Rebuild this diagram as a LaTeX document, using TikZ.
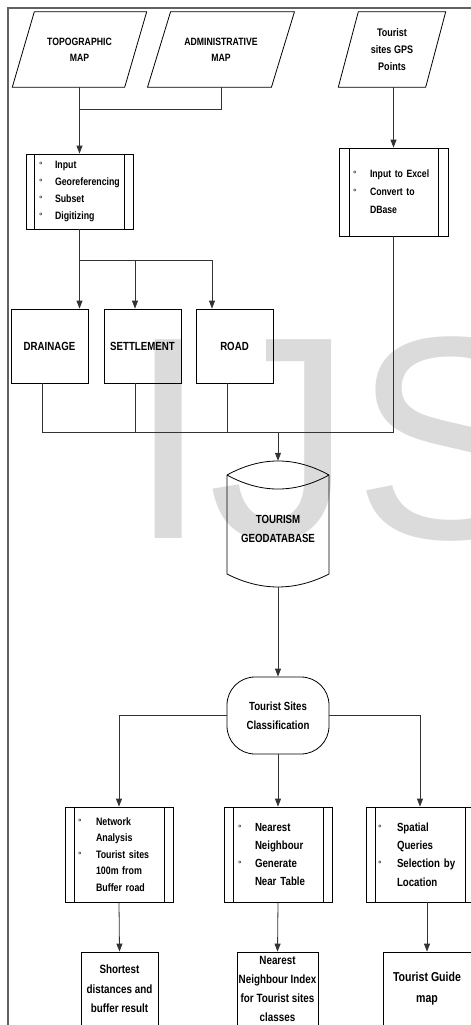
\documentclass[tikz,border=0pt]{standalone}
\usepackage{fontspec}
\setmainfont{Liberation Sans}[FakeStretch=0.82]
\newfontfamily\bulfont{Liberation Sans}
\newfontfamily\wmfont{Liberation Sans}
\usetikzlibrary{arrows.meta}
\newcommand\bu[1]{\makebox[#1][l]{\bulfont\mdseries\fontsize{9}{9}\selectfont °}}
\newcommand\cn[1]{\hspace*{#1}}
\tikzset{
  every node/.style={inner sep=0pt, align=center},
  boxs/.style={draw, line width=0.8pt},
  con/.style={line width=0.8pt, draw=black!80},
  arr/.style={con, -{Triangle[length=8pt,width=6pt]}},
  prep/.style={draw, line width=0.8pt, align=left,
    path picture={\draw[line width=0.8pt]
      ([xshift=#1]path picture bounding box.north west) -- ([xshift=#1]path picture bounding box.south west)
      ([xshift=-#1]path picture bounding box.north east) -- ([xshift=-#1]path picture bounding box.south east);}},
  ptxt/.style={font=\bfseries\fontsize{10.6}{16}\selectfont},
  big/.style={font=\bfseries\fontsize{11.8}{19}\selectfont},
}
\newcommand\paraoutline[2]{\draw[line width=0.8pt] ([xshift=-#2]#1.south west) -- ([xshift=-#2]#1.south east) -- ([xshift=#2]#1.north east) -- ([xshift=#2]#1.north west) -- cycle;}
\begin{document}
\begin{tikzpicture}[x=1pt,y=-1pt]
\useasboundingbox (0,0) rectangle (471,1025);
\clip (0,0) rectangle (471,1025);
% watermark
\node[anchor=base west, text=black!14] (wm) at (128,538) {\wmfont\fontsize{289}{289}\selectfont IJS};
% frame
\draw[line width=2.5pt, black!62] (480,8) -- (8,8) -- (8,1030);
% input maps
\node[ptxt, minimum width=112pt, minimum height=75pt] (topo) at (79.5,49.5) {TOPOGRAPHIC\\MAP};
\paraoutline{topo}{11pt}
\node[ptxt, minimum width=123.5pt, minimum height=75pt] (admin) at (221,49.5) {ADMINISTRATIVE\\MAP};
\paraoutline{admin}{11.5pt}
\node[font=\bfseries\fontsize{11}{17}\selectfont, minimum width=87pt, minimum height=75pt] (gps) at (392,49.5) {Tourist\\sites GPS\\Points};
\paraoutline{gps}{10pt}
% processes
\node[prep=8.5pt, text width=81pt, inner xsep=13pt, minimum height=75pt, font=\bfseries\fontsize{10.7}{17}\selectfont] (box1) at (79.5,191.5)
  {\bu{16pt}Input\\\bu{16pt}Georeferencing\\\bu{16pt}Subset\\\bu{16pt}Digitizing};
\node[prep=10pt, text width=81pt, inner xsep=14pt, minimum height=88pt, font=\bfseries\fontsize{10.6}{18}\selectfont] (box2) at (393.5,192)
  {\bu{17pt}Input to Excel\\\bu{17pt}Convert to\\\cn{17pt}DBase};
% layers
\node[boxs, big, minimum width=77pt, minimum height=74pt] (drain) at (49.5,346) {DRAINAGE};
\node[boxs, big, minimum width=77pt, minimum height=74pt] (sett) at (142.5,346) {SETTLEMENT};
\node[boxs, big, minimum width=77pt, minimum height=74pt] (road) at (234.5,346) {ROAD};
% geodatabase
\node[minimum width=102pt, minimum height=126pt] (db) at (278,524) {};
\node[big] (dbtext) at (278,528.5) {TOURISM\\GEODATABASE};
\draw[line width=0.8pt] (227,475) .. controls (261,456.3) and (295,456.3) .. (329,475);
\draw[line width=0.8pt] (227,475) .. controls (261,493.7) and (295,493.7) .. (329,475);
\draw[line width=0.8pt] (227,475) -- (227,574) .. controls (261,591.3) and (295,591.3) .. (329,574) -- (329,475);
% classification
\node[draw, line width=0.8pt, rounded corners=28pt, big, minimum width=102pt, minimum height=77pt] (cls) at (278,715.5) {Tourist Sites\\Classification};
% analyses
\node[prep=9pt, text width=82pt, inner xsep=13pt, minimum height=95pt, font=\bfseries\fontsize{10.8}{16.5}\selectfont] (boxA) at (119,854.5)
  {\bu{18pt}Network\\\cn{18pt}Analysis\\\bu{18pt}Tourist sites\\\cn{18pt}100m from\\\cn{18pt}Buffer road};
\node[prep=9pt, text width=80pt, inner xsep=14pt, minimum height=95pt, font=\bfseries\fontsize{11.8}{18.3}\selectfont] (boxB) at (278,854.5)
  {\bu{17pt}Nearest\\\cn{17pt}Neighbour\\\bu{17pt}Generate\\\cn{17pt}Near Table};
\node[prep=9pt, text width=84pt, inner xsep=12pt, minimum height=95pt, font=\bfseries\fontsize{11.8}{18.3}\selectfont] (boxC) at (420,854.5)
  {\bu{19pt}Spatial\\\cn{19pt}Queries\\\bu{19pt}Selection by\\\cn{19pt}Location};
% results
\node[boxs, font=\bfseries\fontsize{12}{19.5}\selectfont, minimum width=77pt, minimum height=74pt] (resA) at (119.5,989) {Shortest\\distances and\\buffer result};
\node[boxs, font=\bfseries\fontsize{12}{19}\selectfont, minimum width=81pt, minimum height=74pt] (resB) at (277.5,989) {Nearest\\Neighbour Index\\for Tourist sites\\classes};
\node[boxs, font=\bfseries\fontsize{12.9}{21}\selectfont, minimum width=88pt, minimum height=74pt] (resC) at (427,989) {Tourist Guide\\map};
% junction coordinates
\coordinate (m1) at (79.5,109);
\coordinate (j1) at (79.5,260);
\coordinate (j2) at (135,260);
\coordinate (j3) at (212,260);
\coordinate (k1) at (42,432);
\coordinate (k2) at (135,432);
\coordinate (k3) at (227,432);
\coordinate (kc) at (278,432);
% connectors
\draw[con] (topo.south) -- (m1);
\draw[con] (admin.south) |- (m1);
\draw[arr] (m1) -- (box1.north);
\draw[arr] (gps.south -| box2.north) -- (box2.north);
\draw[con] (box1.south) -- (j1) -- (j3);
\draw[arr] (j1) -- (j1 |- drain.north);
\draw[arr] (j2) -- (j2 |- sett.north);
\draw[arr] (j3) -- (j3 |- road.north);
\draw[con] (box2.south) |- (k1) -- (k1 |- drain.south);
\draw[con] (k2 |- sett.south) -- (k2);
\draw[con] (k3 |- road.south) -- (k3);
\draw[arr] (kc) -- (db.north);
\draw[arr] (db.south) -- (cls.north);
\draw[arr] (cls.west) -| (boxA.north);
\draw[arr] (cls.south) -- (boxB.north);
\draw[arr] (cls.east) -| (boxC.north);
\draw[arr] (boxA.south) -- (resA.north);
\draw[arr] (boxB.south) -- (resB.north);
\draw[arr] (resC.north |- boxC.south) -- (resC.north);
\end{tikzpicture}
\end{document}
